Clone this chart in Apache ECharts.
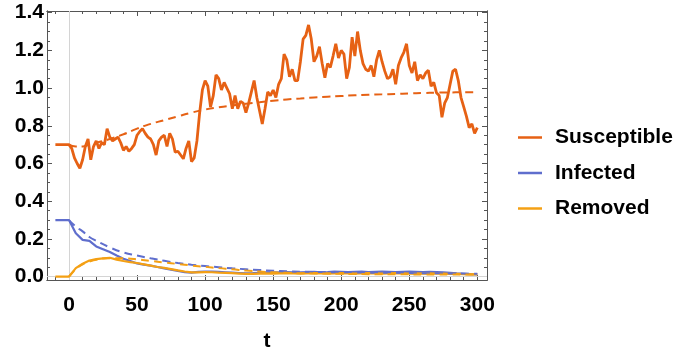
<!DOCTYPE html>
<html>
<head>
<meta charset="utf-8">
<script src="https://cdn.jsdelivr.net/npm/echarts@6/dist/echarts.min.js"></script>
<style>
  html, body { margin: 0; padding: 0; background: #fff; }
  #chart { width: 678px; height: 349px; }
</style>
</head>
<body>
<div id="chart"></div>
<script>
// stochastic paths, t from -10 to 300
var tS = [];
for (var k = -10; k <= 300; k += 2) tS.push(k);
var susceptible = [
  0.70, 0.70, 0.70, 0.70, 0.70, 0.70, 0.68, 0.63, 0.60, 0.575,
  0.62, 0.69, 0.73, 0.62, 0.69, 0.72, 0.68, 0.71, 0.70, 0.785,
  0.74, 0.72, 0.73, 0.74, 0.71, 0.67, 0.69, 0.665, 0.68, 0.70,
  0.75, 0.77, 0.785, 0.76, 0.74, 0.73, 0.70, 0.645, 0.72, 0.74,
  0.75, 0.69, 0.76, 0.73, 0.66, 0.665, 0.645, 0.625, 0.68, 0.72,
  0.61, 0.63, 0.72, 0.87, 0.99, 1.04, 1.01, 0.90, 0.96, 1.07,
  1.05, 0.99, 1.03, 1.00, 0.97, 0.89, 0.96, 0.89, 0.93, 0.92,
  0.87, 0.92, 0.98, 1.04, 0.95, 0.88, 0.81, 0.89, 0.98, 0.96,
  0.99, 0.95, 1.02, 1.05, 1.18, 1.15, 1.06, 1.10, 1.04, 1.04,
  1.14, 1.26, 1.28, 1.335, 1.26, 1.14, 1.17, 1.22, 1.13, 1.055,
  1.13, 1.11, 1.17, 1.235, 1.16, 1.20, 1.18, 1.05, 1.11, 1.27,
  1.17, 1.30, 1.20, 1.13, 1.10, 1.09, 1.12, 1.06, 1.15, 1.20,
  1.14, 1.09, 1.05, 1.06, 1.10, 1.02, 1.12, 1.16, 1.19, 1.235,
  1.12, 1.08, 1.14, 1.04, 1.07, 1.05, 1.08, 1.095, 1.01, 1.03,
  0.975, 0.96, 0.845, 0.92, 0.95, 1.02, 1.09, 1.10, 1.04, 0.95,
  0.90, 0.85, 0.79, 0.81, 0.76, 0.79
];

var tIR = [];
for (var k2 = -10; k2 <= 300; k2 += 5) tIR.push(k2);
var infected = [
  0.30, 0.30, 0.30, 0.23, 0.195, 0.19, 0.16, 0.145, 0.13, 0.112,
  0.095, 0.083, 0.07, 0.064, 0.058, 0.051, 0.044, 0.037, 0.03, 0.023,
  0.021, 0.025, 0.026, 0.026, 0.025, 0.023, 0.021, 0.019, 0.017, 0.018,
  0.02, 0.022, 0.023, 0.022, 0.024, 0.023, 0.022, 0.024, 0.025, 0.023,
  0.024, 0.026, 0.025, 0.024, 0.025, 0.026, 0.024, 0.025, 0.026, 0.025,
  0.024, 0.025, 0.026, 0.025, 0.024, 0.025, 0.024, 0.022, 0.02, 0.017,
  0.015, 0.013, 0.012
];
var removed = [
  0.0, 0.0, 0.0, 0.045, 0.068, 0.085, 0.093, 0.097, 0.10, 0.09,
  0.083, 0.077, 0.072, 0.065, 0.058, 0.051, 0.046, 0.04, 0.033, 0.027,
  0.022, 0.022, 0.024, 0.023, 0.021, 0.02, 0.018, 0.016, 0.014, 0.015,
  0.016, 0.017, 0.016, 0.017, 0.018, 0.017, 0.016, 0.017, 0.018, 0.017,
  0.016, 0.017, 0.018, 0.017, 0.016, 0.017, 0.018, 0.017, 0.016, 0.017,
  0.018, 0.017, 0.016, 0.017, 0.016, 0.017, 0.016, 0.016, 0.015, 0.014,
  0.013, 0.012, 0.012
];

// mean-field (dashed) curves, t from 0 to 300
var tMean = [0, 5, 10, 15, 20, 30, 40, 50, 60, 70, 80, 90, 100, 110, 120, 130, 140, 150, 160,
  170, 180, 190, 200, 210, 220, 230, 240, 250, 260, 270, 280, 290, 300];
var susceptibleMean = [0.70, 0.69, 0.69, 0.70, 0.71, 0.73, 0.755, 0.785, 0.81, 0.83, 0.85, 0.87,
  0.886, 0.898, 0.908, 0.917, 0.925, 0.933, 0.94, 0.945, 0.95, 0.954, 0.958, 0.962, 0.965,
  0.967, 0.969, 0.972, 0.974, 0.976, 0.977, 0.978, 0.978];
var infectedMean = [0.30, 0.265, 0.24, 0.21, 0.19, 0.155, 0.128, 0.112, 0.097, 0.084, 0.072,
  0.063, 0.056, 0.05, 0.044, 0.039, 0.035, 0.031, 0.028, 0.026, 0.025, 0.024, 0.023, 0.022,
  0.021, 0.021, 0.02, 0.019, 0.018, 0.018, 0.017, 0.016, 0.015];
var removedMean = [0.0, 0.04, 0.065, 0.08, 0.09, 0.098, 0.097, 0.092, 0.083, 0.075, 0.067,
  0.059, 0.052, 0.045, 0.039, 0.032, 0.027, 0.023, 0.02, 0.018, 0.017, 0.016, 0.015, 0.014,
  0.013, 0.013, 0.012, 0.012, 0.011, 0.011, 0.011, 0.011, 0.011];

var xMajor = [0, 50, 100, 150, 200, 250, 300];
var xMinor = [-10, 10, 20, 30, 40, 60, 70, 80, 90, 110, 120, 130, 140, 160, 170, 180, 190,
  210, 220, 230, 240, 260, 270, 280, 290];
var yMajor = [0, 0.2, 0.4, 0.6, 0.8, 1.0, 1.2, 1.4];
var yMinor = [];
for (var m = 1; m < 28; m++) { if (m % 4 !== 0) yMinor.push(+(m * 0.05).toFixed(2)); }

var colS = '#E66114', colI = '#5F6ECD', colR = '#F4A014';
var frame = '#555';

function zip(t, v) { return t.map(function (x, i) { return [x, v[i]]; }); }

var font = 'Liberation Sans, Arial, sans-serif';
var xMin = -16.16, xMax = 307.1, yMin = -0.018, yMax = 1.409;

function xAx(pos, ticks, len, labels) {
  return {
    type: 'value', position: pos, min: xMin, max: xMax,
    splitLine: { show: false },
    axisLine: { show: true, onZero: false, lineStyle: { color: frame, width: 1 } },
    axisTick: { show: true, inside: true, length: len, customValues: ticks, lineStyle: { color: frame } },
    axisLabel: labels ? {
      show: true, customValues: ticks, margin: 15, color: '#000',
      fontFamily: font, fontWeight: 'bold', fontSize: 21
    } : { show: false }
  };
}
function yAx(pos, ticks, len, labels) {
  return {
    type: 'value', position: pos, min: yMin, max: yMax,
    splitLine: { show: false },
    axisLine: { show: true, onZero: false, lineStyle: { color: frame, width: 1 } },
    axisTick: { show: true, inside: true, length: len, customValues: ticks, lineStyle: { color: frame } },
    axisLabel: labels ? {
      show: true, customValues: ticks, margin: 3, color: '#000',
      fontFamily: font, fontWeight: 'bold', fontSize: 21,
      formatter: function (v) { return v.toFixed(1); }
    } : { show: false }
  };
}

var xMain = xAx('bottom', xMajor, 5, true);
xMain.name = 't';
xMain.nameLocation = 'middle';
xMain.nameGap = 51;
xMain.nameTextStyle = { color: '#000', fontFamily: font, fontWeight: 'bold', fontSize: 21 };

var chart = echarts.init(document.getElementById('chart'), null, { renderer: 'canvas' });
var option = {
  backgroundColor: '#fff',
  animation: false,
  grid: { left: 47, top: 11, width: 440, height: 269, containLabel: false, outerBoundsMode: 'none' },
  xAxis: [xMain, xAx('bottom', xMinor, 3, false), xAx('top', xMajor, 5, false), xAx('top', xMinor, 3, false)],
  yAxis: [yAx('left', yMajor, 5, true), yAx('left', yMinor, 3, false), yAx('right', yMajor, 5, false), yAx('right', yMinor, 3, false)],
  legend: {
    orient: 'vertical', left: 518, top: 127, padding: 0,
    data: ['Susceptible', 'Infected', 'Removed'],
    icon: 'rect', itemWidth: 24, itemHeight: 2.5, itemGap: 14.5,
    textStyle: { color: '#000', fontFamily: font, fontWeight: 'bold', fontSize: 21, lineHeight: 21, padding: [0, 0, 0, 8] }
  },
  series: [
    {
      type: 'line', data: [], z: 1, silent: true,
      markLine: {
        z: 1, silent: true, symbol: 'none', label: { show: false }, animation: false,
        lineStyle: { color: '#d4d4d4', type: 'solid', width: 1 },
        data: [{ xAxis: 0 }, { yAxis: 0 }]
      }
    },
    { name: 'Susceptible', type: 'line', data: zip(tS, susceptible), symbol: 'none', z: 3,
      lineStyle: { color: colS, width: 2.8 }, itemStyle: { color: colS } },
    { name: 'Infected', type: 'line', data: zip(tIR, infected), symbol: 'none', z: 3,
      lineStyle: { color: colI, width: 2.2 }, itemStyle: { color: colI } },
    { name: 'Removed', type: 'line', data: zip(tIR, removed), symbol: 'none', z: 3,
      lineStyle: { color: colR, width: 2.2 }, itemStyle: { color: colR } },
    { name: 'S mean', type: 'line', data: zip(tMean, susceptibleMean), symbol: 'none', smooth: true, z: 4,
      lineStyle: { color: colS, width: 2, type: [8, 5] } },
    { name: 'I mean', type: 'line', data: zip(tMean, infectedMean), symbol: 'none', smooth: true, z: 4,
      lineStyle: { color: colI, width: 2, type: [8, 5] } },
    { name: 'R mean', type: 'line', data: zip(tMean, removedMean), symbol: 'none', smooth: true, z: 4,
      lineStyle: { color: colR, width: 2, type: [8, 5] } }
  ]
};
chart.setOption(option);
</script>
</body>
</html>
